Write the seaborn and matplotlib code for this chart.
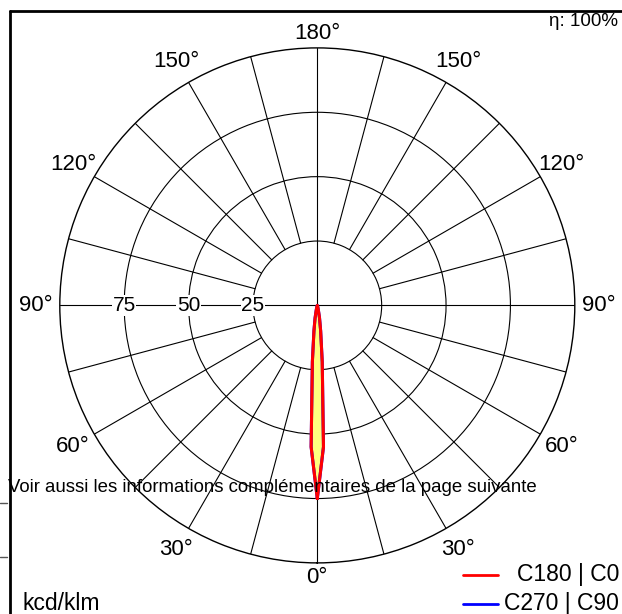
import numpy as np
import pandas as pd
import matplotlib
matplotlib.use("Agg")
import matplotlib.pyplot as plt
import seaborn as sns

# luminous intensity (kcd/klm) vs gamma angle, per C-plane
gamma = [0, 2.5, 5, 7.5, 10, 12.5, 15, 20, 30, 45, 60, 75, 90, 105, 120, 135, 150, 165, 180]
c0 = [75, 55, 22, 10, 5, 2, 1, 0.4, 0, 0, 0, 0, 0, 0, 0, 0, 0, 0, 0]
c180 = [75, 55, 22, 10, 5, 2, 1, 0.4, 0, 0, 0, 0, 0, 0, 0, 0, 0, 0, 0]
c90 = [75, 55, 22, 10, 5, 2, 1, 0.4, 0, 0, 0, 0, 0, 0, 0, 0, 0, 0, 0]
c270 = [75, 55, 22, 10, 5, 2, 1, 0.4, 0, 0, 0, 0, 0, 0, 0, 0, 0, 0, 0]

ring_values = [25, 50, 75]
ring_labels = ["25", "50", "75"]
angle_labels = [0, 30, 60, 90, 120, 150, 180]
spoke_angles = [15, 30, 45, 60, 75, 105, 120, 135, 150, 165]
legend_labels = ["C180 | C0", "C270 | C90"]
eta_text = "η: 100%"
unit_text = "kcd/klm"
note_text = "Voir aussi les informations complémentaires de la page suivante"

sns.set_style("white")
plt.rcParams['font.family'] = ['Liberation Sans', 'DejaVu Sans']
plt.rcParams['text.color'] = 'black'

W, H = 622, 614
fig = plt.figure(figsize=(W / 100, H / 100), dpi=100)
cx, cy, R = 317.3, 305.4, 257.5
ax = fig.add_axes([(cx - R) / W, (H - cy - R) / H, 2 * R / W, 2 * R / H],
                  projection="polar")
ax.set_theta_zero_location("S")
ax.set_theta_direction(1)
ax.set_ylim(0, 100)
ax.set_thetagrids([])
ax.set_rgrids(ring_values, labels=[])
ax.yaxis.grid(True, color="black", lw=0.8)
ax.xaxis.grid(False)
ax.spines["polar"].set_color("black")
ax.spines["polar"].set_linewidth(1.0)
ax.set_facecolor("white")

# spokes
for a in spoke_angles:
    for s in (1, -1):
        t = np.deg2rad(s * a)
        ax.plot([t, t], [25, 100], color="black", lw=0.8, zorder=1)
for a in (0, 90, 180, 270):
    t = np.deg2rad(a)
    ax.plot([t, t], [0, 100], color="black", lw=0.8, zorder=1)

# curves: right half = C0 / C90, left half = C180 / C270
def plane(right, left, name):
    th = list(np.deg2rad(gamma)) + list(-np.deg2rad(gamma[::-1]))
    rr = list(right) + list(left[::-1])
    return pd.DataFrame({"theta": th, "r": rr, "plane": name})

df = pd.concat([plane(c90, c270, legend_labels[1]),
                plane(c0, c180, legend_labels[0])], ignore_index=True)
red = df[df["plane"] == legend_labels[0]]
ax.fill(red["theta"], red["r"], color="#ffff7f", zorder=2)
sns.lineplot(data=df, x="theta", y="r", hue="plane", sort=False, estimator=None,
             palette={legend_labels[0]: "#ff0000", legend_labels[1]: "#0000ff"},
             hue_order=[legend_labels[1], legend_labels[0]],
             lw=2.2, legend=False, ax=ax, zorder=3)
ax.set_xlabel("")
ax.set_ylabel("")

# angle labels
for a in angle_labels:
    rr = 105.6 if a in (0, 180) else 109.5
    sides = (1,) if a in (0, 180) else (1, -1)
    for s in sides:
        ax.text(np.deg2rad(s * a), rr, f"{a}°", ha="center", va="center",
                fontsize=16, clip_on=False)

# ring value labels on the left horizontal
for v, lab in zip(ring_values, ring_labels):
    ax.text(np.deg2rad(-90), v, lab, ha="center", va="center", fontsize=15,
            bbox=dict(facecolor="white", edgecolor="none", pad=0.5), zorder=4)

# frame and annotations
fig.add_artist(plt.Line2D([10 / W, 1], [1 - 11 / H] * 2, color="black", lw=2))
fig.add_artist(plt.Line2D([10 / W] * 2, [1 - 11 / H, 0], color="black", lw=2))
for yy in (503, 557):
    fig.add_artist(plt.Line2D([0, 7 / W], [1 - yy / H] * 2, color="#555555", lw=1))

fig.text(618 / W, 1 - 22 / H, eta_text, ha="right", va="center", fontsize=13.5)
fig.text(22 / W, 1 - 610 / H, unit_text, ha="left", va="baseline", fontsize=16.5)
fig.text(8 / W, 1 - 488 / H, note_text, ha="left", va="center", fontsize=13.4)

# legend
fig.add_artist(plt.Line2D([463 / W, 498 / W], [1 - 575 / H] * 2, color="#ff0000", lw=2))
fig.text(619 / W, 1 - 575 / H, legend_labels[0], ha="right", va="center", fontsize=16.5)
fig.add_artist(plt.Line2D([463 / W, 498 / W], [1 - 604 / H] * 2, color="#0000ff", lw=2))
fig.text(619 / W, 1 - 610 / H, legend_labels[1], ha="right", va="baseline", fontsize=16.5)

fig.savefig("out.png", dpi=100)
